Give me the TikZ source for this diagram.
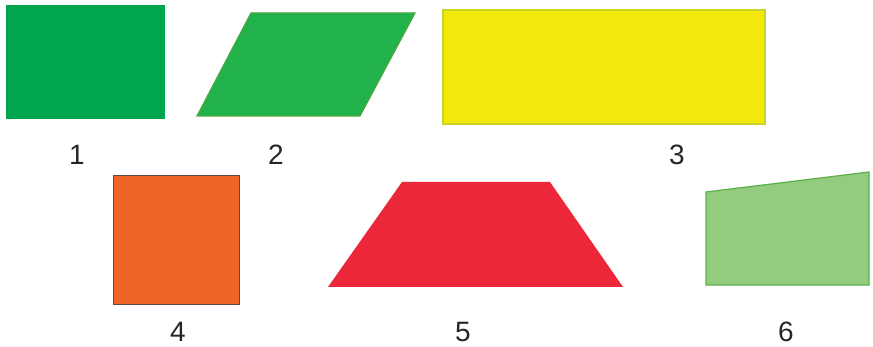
\documentclass[tikz,border=0pt]{standalone}
\usepackage{fontspec}
\setmainfont{Liberation Sans}
\definecolor{gA}{HTML}{00A54F}
\definecolor{gB}{HTML}{22B24C}
\definecolor{gBe}{HTML}{4AA83F}
\definecolor{yC}{HTML}{F2E90A}
\definecolor{yCe}{HTML}{C6D42C}
\definecolor{oD}{HTML}{F06428}
\definecolor{oDe}{HTML}{5A4A40}
\definecolor{rE}{HTML}{EC2739}
\definecolor{gF}{HTML}{93CB7F}
\definecolor{gFe}{HTML}{5CB04A}
\begin{document}
\begin{tikzpicture}[x=1pt,y=-1pt,
  lbl/.style={font=\fontsize{28}{30}\selectfont, inner sep=0pt, text=black!85}]
\useasboundingbox (0,0) rectangle (873,347);
\fill[white] (0,0) rectangle (873,347);
% 1
\fill[gA] (6,5) rectangle (165,119);
% 2
\filldraw[fill=gB, draw=gBe, line width=1.2pt] (197,116) -- (360,116) -- (415,13) -- (251,13) -- cycle;
% 3
\filldraw[fill=yC, draw=yCe, line width=1.5pt] (443,10) rectangle (765,124);
% 4
\filldraw[fill=oD, draw=oDe, line width=0.8pt] (113,175) rectangle (239,304);
% 5
\fill[rE] (328,287) -- (623,287) -- (550,182) -- (402,182) -- cycle;
% 6
\filldraw[fill=gF, draw=gFe, line width=1.2pt] (706,285) -- (869,285) -- (869,172) -- (706,192) -- cycle;
% labels
\node[lbl] (l1) at (77,155) {1};
\node[lbl] (l2) at (276,155) {2};
\node[lbl] (l3) at (677,155) {3};
\node[lbl] (l4) at (178,332) {4};
\node[lbl] (l5) at (463,332) {5};
\node[lbl] (l6) at (786,332) {6};
\end{tikzpicture}
\end{document}
